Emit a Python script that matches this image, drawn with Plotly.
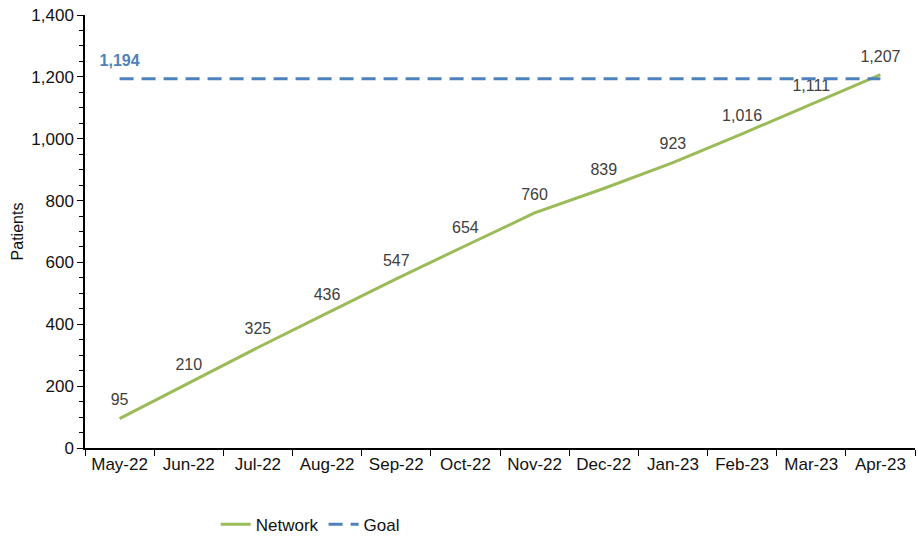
import plotly.graph_objects as go

months = ['May-22', 'Jun-22', 'Jul-22', 'Aug-22', 'Sep-22', 'Oct-22',
          'Nov-22', 'Dec-22', 'Jan-23', 'Feb-23', 'Mar-23', 'Apr-23']
network = [95, 210, 325, 436, 547, 654, 760, 839, 923, 1016, 1111, 1207]
goal = [1194] * len(months)

green = '#9BBB59'
blue = '#4F81BD'

fig = go.Figure()
# invisible markers are there only to push the data labels up off the line
fig.add_trace(go.Scatter(x=months, y=network, mode='lines+markers+text', name='Network',
                         line=dict(color=green, width=3),
                         marker=dict(size=13, color='rgba(0,0,0,0)'),
                         text=[f"{v:,}" for v in network], textposition='top center',
                         textfont=dict(size=16, color='#404040')))
# goal line, label only on the first point
fig.add_trace(go.Scatter(x=months, y=goal, mode='lines+markers+text', name='Goal',
                         line=dict(color=blue, width=3, dash='14px,8px'),
                         marker=dict(size=13, color='rgba(0,0,0,0)'),
                         text=[f"<b>{goal[0]:,}</b>"] + [''] * (len(months) - 1),
                         textposition='top center',
                         textfont=dict(size=16, color=blue)))

fig.update_layout(
    width=918, height=542,
    margin=dict(l=85, r=3, t=15, b=94),
    plot_bgcolor='white', paper_bgcolor='white',
    font=dict(family='Liberation Sans, Arial, sans-serif', size=17, color='#111'),
    showlegend=True,
    legend=dict(orientation='h', xref='container', yref='container',
                x=0.235, xanchor='left', y=0.032, yanchor='middle',
                font=dict(size=17, color='#111')),
)
fig.update_xaxes(type='category', range=[-0.5, 11.5], showline=True, linecolor='#000',
                 linewidth=1.5, ticks='outside', tickson='boundaries', ticklen=6,
                 tickcolor='#000', showgrid=False, automargin=False)
fig.update_yaxes(range=[0, 1400], dtick=200, tickformat=',', showline=True,
                 linecolor='#000', linewidth=1.5, ticks='outside', ticklen=6,
                 tickcolor='#000', showgrid=False, zeroline=False, automargin=False,
                 ticklabeloverflow='allow',
                 minor=dict(dtick=50, ticks='outside', ticklen=4, tickcolor='#000'),
                 title=dict(text='Patients', font=dict(size=16), standoff=4))

# drop the default 8px page margin so the figure fills the window
fig.write_html("out.html", config={'displayModeBar': False},
               post_script="document.body.style.margin='0';")
